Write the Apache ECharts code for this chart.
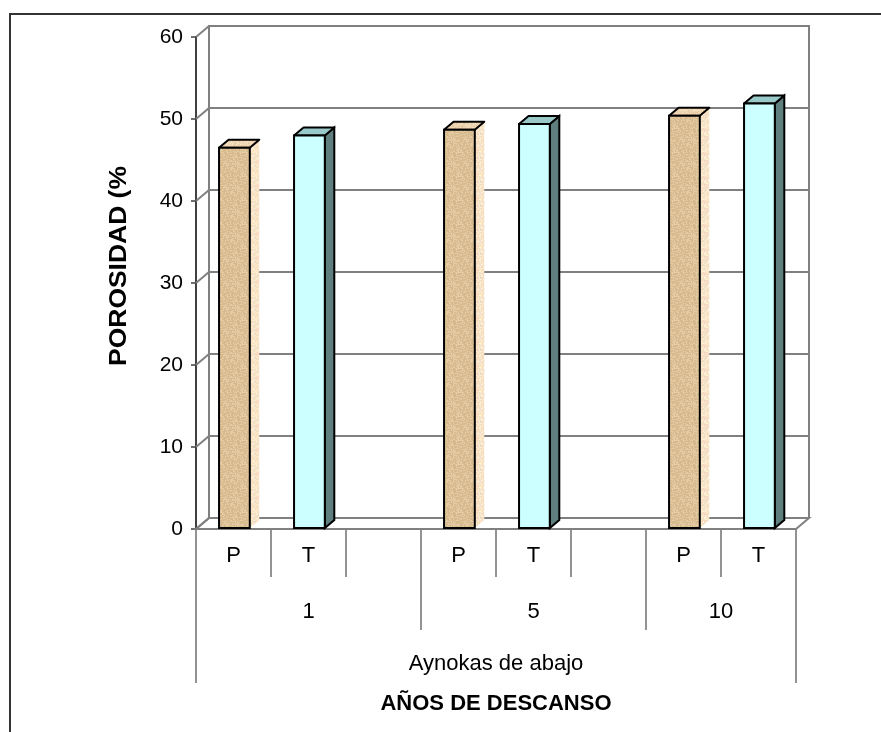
<!DOCTYPE html>
<html>
<head>
<meta charset="utf-8">
<script src="https://cdn.jsdelivr.net/npm/echarts@6/dist/echarts.min.js"></script>
<style>
  html, body { margin: 0; padding: 0; background: #ffffff; }
  #chart { width: 881px; height: 732px; }
</style>
</head>
<body>
<div id="chart"></div>
<script>
// Category slots along the floor (a blank slot separates the rest-year groups)
const slotLabels = ['P', 'T', '', 'P', 'T', '', 'P', 'T'];
// Rest-year groups and how many slots each one spans
const groupLabels = ['1', '5', '10'];
const groupSpans = [3, 3, 2];
const regionLabel = 'Aynokas de abajo';

// Porosity (%) per treatment
const slotsP = [0, 3, 6];
const porosidadP = [46.5, 48.7, 50.4];
const slotsT = [1, 4, 7];
const porosidadT = [48.0, 49.4, 51.9];

// Value axis
const yMin = 0, yMax = 60, yStep = 10;

const FONT = '"Liberation Sans", Arial, sans-serif';
const DEPTH_X = 13, DEPTH_Y = -11;   // back-wall offset of the 3D box
const BAR_DX = 9.5, BAR_DY = -8;     // depth of each column

// Speckled stone texture used on the P columns
function speckle(base, palette, seed, density) {
  const n = 24;
  const c = document.createElement('canvas');
  c.width = n; c.height = n;
  const g = c.getContext('2d');
  g.fillStyle = base; g.fillRect(0, 0, n, n);
  let s = seed;
  for (let y = 0; y < n; y++) {
    for (let x = 0; x < n; x++) {
      s = (s * 1103515245 + 12345) & 0x7fffffff;
      const r = (s >> 8) % 100;
      if (r < density) {
        g.fillStyle = palette[(s >> 3) % palette.length];
        g.fillRect(x, y, 1, 1);
      }
    }
  }
  return { image: c, repeat: 'repeat' };
}

const faceP = {
  front: speckle('#E4CBA3', ['#D6BA8E', '#F2DEBE', '#CBB48C', '#ECD6A4', '#D9C6AA', '#F0CFB2', '#C9BE98', '#E0C49A'], 7, 60),
  side: speckle('#F3E3C6', ['#FFF2DA', '#E6CEA6', '#F8D6C6', '#E2E6B6', '#FFE6BE', '#EAD8C0'], 13, 60),
  top: speckle('#EFD6B2', ['#F8E4C4', '#E2C69C', '#F4D8C0'], 29, 40),
  sideStroke: null
};
const faceT = { front: '#CCFFFF', side: '#5F7F7F', top: '#99C9C9', sideStroke: '#000000' };

function bar3d(face) {
  return function (params, api) {
    const slot = api.value(0), v = api.value(1);
    const base = api.coord([slot, 0]);
    const top = api.coord([slot, v]);
    const w = api.size([1, 0])[0] * 0.41;
    const L = base[0] - w * 0.47, R = L + w;
    const yb = base[1] - 1, yt = top[1];
    return {
      type: 'group',
      children: [
        { type: 'polygon',
          shape: { points: [[R, yt], [R + BAR_DX, yt + BAR_DY], [R + BAR_DX, yb + BAR_DY], [R, yb]] },
          style: { fill: face.side, stroke: face.sideStroke, lineWidth: 2 } },
        { type: 'polygon',
          shape: { points: [[L, yt], [R, yt], [R + BAR_DX, yt + BAR_DY], [L + BAR_DX, yt + BAR_DY]] },
          style: { fill: face.top, stroke: '#000', lineWidth: 2, lineJoin: 'round' } },
        { type: 'rect',
          shape: { x: L, y: yt, width: w, height: yb - yt },
          style: { fill: face.front, stroke: '#000', lineWidth: 2 } }
      ]
    };
  };
}

// Back wall, side wall and floor of the 3D box
function walls(params, api) {
  const cs = params.coordSys;
  const x0 = cs.x, x1 = cs.x + cs.width;
  const grey = { stroke: '#808080', lineWidth: 2, fill: null };
  const children = [];
  const bottom = api.coord([0, yMin])[1];
  const topY = api.coord([0, yMax])[1];
  // floor
  children.push({ type: 'polygon',
    shape: { points: [[x0, bottom], [x1, bottom], [x1 + DEPTH_X, bottom + DEPTH_Y], [x0 + DEPTH_X, bottom + DEPTH_Y]] },
    style: { fill: '#ffffff', stroke: '#808080', lineWidth: 2 } });
  // back wall outline
  children.push({ type: 'polyline',
    shape: { points: [[x0 + DEPTH_X, bottom + DEPTH_Y], [x0 + DEPTH_X, topY + DEPTH_Y], [x1 + DEPTH_X, topY + DEPTH_Y], [x1 + DEPTH_X, bottom + DEPTH_Y]] },
    style: grey });
  for (let v = yMin; v <= yMax; v += yStep) {
    const y = api.coord([0, v])[1];
    children.push({ type: 'line',
      shape: { x1: x0, y1: y, x2: x0 + DEPTH_X, y2: y + DEPTH_Y }, style: grey });
    if (v > yMin) {
      children.push({ type: 'line',
        shape: { x1: x0 + DEPTH_X, y1: y + DEPTH_Y, x2: x1 + DEPTH_X, y2: y + DEPTH_Y }, style: grey });
    }
  }
  return { type: 'group', children: children };
}

// group boundaries and centres along the slot axis
const groupBounds = [0];
groupSpans.forEach(function (s) { groupBounds.push(groupBounds[groupBounds.length - 1] + s); });
const groupCenters = groupSpans.map(function (s, i) { return groupBounds[i] + s / 2; });
const totalSlots = slotLabels.length;

const chart = echarts.init(document.getElementById('chart'), null, { renderer: 'canvas' });
chart.setOption({
  animation: false,
  backgroundColor: '#ffffff',
  grid: { left: 196, right: 85, top: 37, bottom: 203, containLabel: false },
  xAxis: [
    {
      type: 'category', data: slotLabels, position: 'bottom', offset: 0,
      axisLine: { show: true, lineStyle: { color: '#404040', width: 2 } },
      axisTick: { show: true, length: 48, lineStyle: { color: '#707070', width: 1.5 } },
      axisLabel: { interval: 0, margin: 16, fontSize: 22, color: '#000', fontFamily: FONT },
      splitLine: { show: false }
    },
    {
      type: 'value', min: 0, max: totalSlots, position: 'bottom', offset: 0,
      axisLine: { show: false },
      splitLine: { show: false },
      axisTick: { show: true, length: 101, customValues: groupBounds, lineStyle: { color: '#707070', width: 1.5 } },
      axisLabel: {
        customValues: groupCenters, margin: 72, fontSize: 22, color: '#000', fontFamily: FONT,
        formatter: function (v) {
          const i = groupCenters.indexOf(v);
          return i >= 0 ? groupLabels[i] : '';
        }
      }
    },
    {
      type: 'value', min: 0, max: totalSlots, position: 'bottom', offset: 0,
      axisLine: { show: false },
      splitLine: { show: false },
      axisTick: { show: true, length: 154, customValues: [0, totalSlots], lineStyle: { color: '#707070', width: 1.5 } },
      axisLabel: {
        customValues: [totalSlots / 2], margin: 124, fontSize: 22, color: '#000', fontFamily: FONT,
        formatter: function () { return regionLabel; }
      },
      name: 'AÑOS DE DESCANSO', nameLocation: 'middle', nameGap: 164,
      nameTextStyle: { fontSize: 22, fontWeight: 'bold', color: '#000', fontFamily: FONT }
    }
  ],
  yAxis: {
    type: 'value', min: yMin, max: yMax, interval: yStep,
    axisLine: { show: true, lineStyle: { color: '#404040', width: 2 } },
    axisTick: { show: true, length: 5, lineStyle: { color: '#404040', width: 1.5 } },
    axisLabel: { margin: 13, fontSize: 21, color: '#000', fontFamily: FONT },
    splitLine: { show: false }
  },
  graphic: [
    { type: 'rect', z: 100, silent: true,
      shape: { x: 10, y: 14, width: 900, height: 900 },
      style: { fill: null, stroke: '#333333', lineWidth: 2 } },
    { type: 'text', x: 120, y: 266, rotation: Math.PI / 2, scaleX: 1.15,
      style: { text: 'POROSIDAD (%', font: 'bold 23px ' + FONT, fill: '#000',
               textAlign: 'center', textVerticalAlign: 'middle' } }
  ],
  series: [
    { type: 'custom', name: 'walls', xAxisIndex: 0, yAxisIndex: 0, z: 1, clip: false,
      data: [[0, 0]], renderItem: walls, silent: true },
    { type: 'custom', name: 'P', xAxisIndex: 0, yAxisIndex: 0, z: 3, clip: false,
      data: slotsP.map(function (s, i) { return [s, porosidadP[i]]; }), renderItem: bar3d(faceP) },
    { type: 'custom', name: 'T', xAxisIndex: 0, yAxisIndex: 0, z: 3, clip: false,
      data: slotsT.map(function (s, i) { return [s, porosidadT[i]]; }), renderItem: bar3d(faceT) }
  ]
});
</script>
</body>
</html>
